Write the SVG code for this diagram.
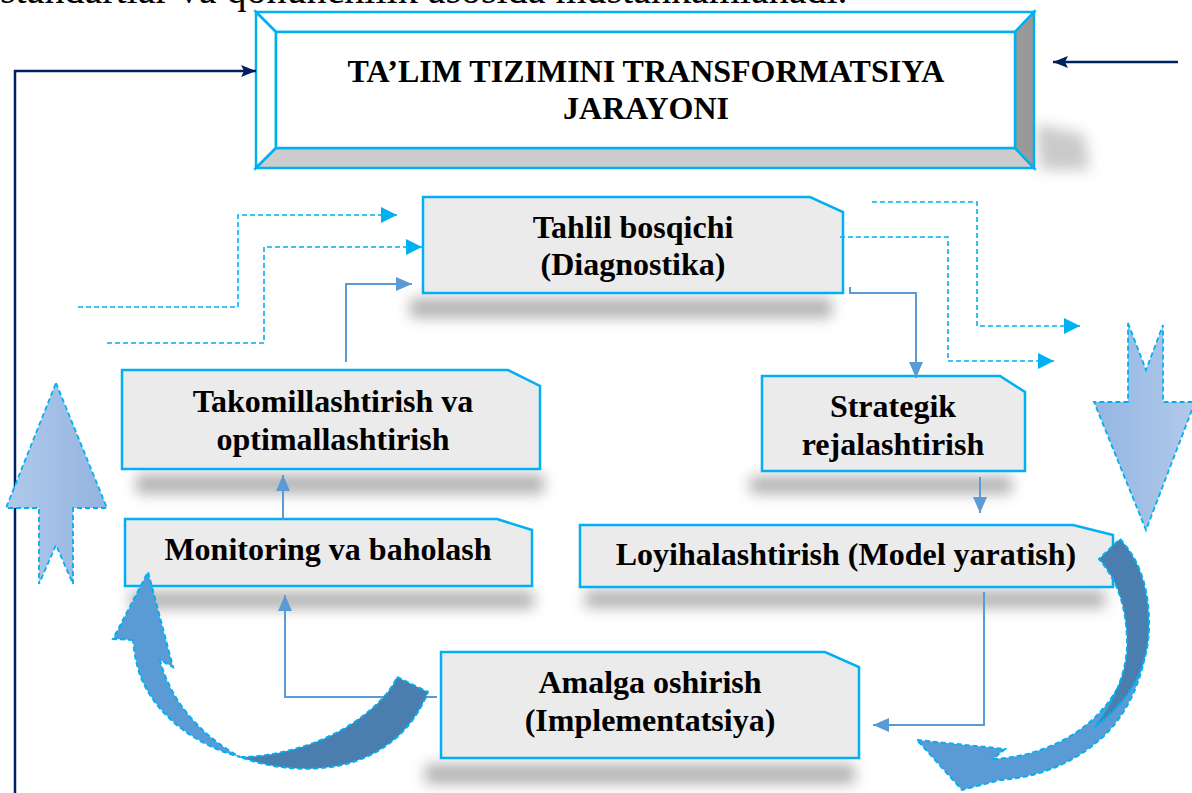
<svg xmlns="http://www.w3.org/2000/svg" width="1192" height="793" viewBox="0 0 1192 793">
  <defs>
    <style>
      .lbl { font-family: "Liberation Serif", "Times New Roman", serif; font-weight: bold; font-size: 32px; fill: #000; text-anchor: middle; }
      .body { font-family: "Liberation Serif", "Times New Roman", serif; font-size: 40px; fill: #000; }
      .box { fill: #ebebeb; stroke: #00b0f0; stroke-width: 2.5; }
      .bevel { stroke: #00b0f0; stroke-width: 2.5; stroke-linejoin: miter; }
      .shadow { fill: #b4b4b4; filter: url(#soft); }
      .link { fill: none; stroke: #5b9bd5; stroke-width: 2; marker-end: url(#blueHead); }
      .dash { fill: none; stroke: #00b0f0; stroke-width: 1.6; stroke-dasharray: 5 3; marker-end: url(#cyanHead); }
      .navy { fill: none; stroke: #002060; stroke-width: 2.5; }
      .bigArrow { stroke: #00b0f0; stroke-width: 1.8; stroke-dasharray: 5 3; }
      .curveLight { fill: #5b9bd5; stroke: #00b0f0; stroke-width: 2; stroke-dasharray: 5 3; }
      .curveDark { fill: #4a7eae; stroke: #00b0f0; stroke-width: 2; stroke-dasharray: 5 3; }
    </style>
    <filter id="soft" x="-30%" y="-150%" width="160%" height="400%">
      <feGaussianBlur stdDeviation="7"/>
    </filter>
    <linearGradient id="upFill" x1="0" y1="0" x2="1" y2="0">
      <stop offset="0" stop-color="#b0c9ea"/>
      <stop offset="1" stop-color="#93b4e0"/>
    </linearGradient>
    <linearGradient id="downFill" x1="0" y1="0" x2="1" y2="0">
      <stop offset="0" stop-color="#93b6e2"/>
      <stop offset="1" stop-color="#b2c9ea"/>
    </linearGradient>
    <marker id="navyHead" markerUnits="userSpaceOnUse" markerWidth="16" markerHeight="12" refX="15" refY="6" orient="auto">
      <path d="M0,0 L15,6 L0,12 L3,6 Z" fill="#002060"/>
    </marker>
    <marker id="cyanHead" markerUnits="userSpaceOnUse" markerWidth="17" markerHeight="16" refX="16" refY="8" orient="auto">
      <path d="M0,0 L16,8 L0,16 Z" fill="#00b0f0"/>
    </marker>
    <marker id="blueHead" markerUnits="userSpaceOnUse" markerWidth="17" markerHeight="14" refX="16" refY="7" orient="auto">
      <path d="M0,0 L16,7 L0,14 Z" fill="#5b9bd5"/>
    </marker>
  </defs>

  <rect width="1192" height="793" fill="#ffffff"/>

  <!-- running text line above the figure, mostly out of frame -->
  <text class="body" x="0" y="3">standartlar va qonunchilik asosida mustahkamlanadi.</text>

  <!-- soft drop shadows -->
  <g id="shadows">
    <polygon class="shadow" points="1036,124 1084,134 1090,170 1040,170" opacity="0.7"/>
    <rect class="shadow" x="410" y="298" width="422" height="20"/>
    <rect class="shadow" x="750" y="476" width="262" height="18"/>
    <rect class="shadow" x="136" y="474" width="408" height="20"/>
    <rect class="shadow" x="130" y="591" width="404" height="18"/>
    <rect class="shadow" x="585" y="590" width="520" height="18"/>
    <rect class="shadow" x="425" y="764" width="430" height="20"/>
  </g>

  <!-- title frame with bevelled edges -->
  <g id="title">
    <polygon points="256,12 1034,12 1015,32 276,32" fill="#ffffff" class="bevel"/>
    <polygon points="256,12 276,32 276,148 256,168" fill="#ffffff" class="bevel"/>
    <polygon points="256,168 276,148 1015,148 1034,168" fill="#cccccc" class="bevel"/>
    <polygon points="1034,12 1034,168 1015,148 1015,32" fill="#999999" class="bevel"/>
    <rect x="276" y="32" width="739" height="116" fill="#ffffff" class="bevel"/>
    <text class="lbl" x="646" y="82">TA’LIM TIZIMINI TRANSFORMATSIYA</text>
    <text class="lbl" x="646" y="119">JARAYONI</text>
  </g>

  <g id="tahlil">
    <path class="box" d="M423,197 H810 L843,212 V293 H423 Z"/>
    <text class="lbl" x="633" y="238">Tahlil bosqichi</text>
    <text class="lbl" x="633" y="275">(Diagnostika)</text>
  </g>

  <g id="strategik">
    <path class="box" d="M762,376 H1000 L1025,392 V471 H762 Z"/>
    <text class="lbl" x="893" y="417">Strategik</text>
    <text class="lbl" x="893" y="455">rejalashtirish</text>
  </g>

  <g id="loyihalashtirish">
    <path class="box" d="M580,525 H1073 L1113,535 V587 H580 Z"/>
    <text class="lbl" x="846" y="565">Loyihalashtirish (Model yaratish)</text>
  </g>

  <g id="amalga">
    <path class="box" d="M441,652 H825 L859,667 V758 H441 Z"/>
    <text class="lbl" x="650" y="693">Amalga oshirish</text>
    <text class="lbl" x="650" y="731">(Implementatsiya)</text>
  </g>

  <g id="monitoring">
    <path class="box" d="M125,519 H497 L532,530 V586 H125 Z"/>
    <text class="lbl" x="328" y="560">Monitoring va baholash</text>
  </g>

  <g id="takomillashtirish">
    <path class="box" d="M122,370 H508 L540,386 V469 H122 Z"/>
    <text class="lbl" x="333" y="412">Takomillashtirish va</text>
    <text class="lbl" x="333" y="450">optimallashtirish</text>
  </g>

  <!-- connectors -->
  <g id="connectors">
    <path class="link" d="M850,287 V293 H916 V378"/>
    <path class="link" d="M980,477 V513"/>
    <path class="link" d="M984,592 V725 H873"/>
    <path class="link" d="M437,697 H285 V595"/>
    <path class="link" d="M283,519 V475"/>
    <path class="link" d="M346,362 V284 H412"/>

    <path class="dash" d="M78,307 H238 V215 H397"/>
    <path class="dash" d="M107,343 H264 V247 H422"/>
    <path class="dash" d="M872,202 H977 V326 H1080"/>
    <path class="dash" d="M840,237 H948 V361 H1054"/>

    <path class="navy" d="M15,793 V71 H256" marker-end="url(#navyHead)"/>
    <path class="navy" d="M1178,62 H1053" marker-end="url(#navyHead)"/>
  </g>

  <!-- large block arrows -->
  <g id="up-arrow">
    <path class="bigArrow" fill="url(#upFill)" d="M56,383 L107,508 H73 V584 L56,545 L39,584 V508 H6 Z"/>
  </g>
  <g id="down-arrow">
    <path class="bigArrow" fill="url(#downFill)" d="M1128,323 L1146,370 L1163,325 V402 H1195 L1146,530 L1094,402 H1128 Z"/>
  </g>

  <!-- curved return arrows -->
  <g id="curve-left">
    <path class="curveLight" d="M133,640 L113,639 L148,572 L173,667 L160,660 C170,700 200,735 240,757 C195,745 155,715 140,675 C136,663 134,652 133,640 Z"/>
    <path class="curveDark" d="M397,677 L428,692 C415,725 390,750 353,762 C318,773 275,770 240,757 C275,757 320,745 353,723 C375,708 390,693 397,677 Z"/>
  </g>
  <g id="curve-right">
    <path class="curveLight" d="M917,740 L1005,749 L993,759 C1040,757 1085,735 1110,700 C1130,670 1142,640 1147,615 C1150,660 1135,705 1105,735 C1075,763 1040,777 1000,780 L962,790 Z"/>
    <path class="curveDark" d="M1120,539 C1140,560 1150,590 1149,630 C1147,670 1130,700 1095,727 C1115,700 1128,670 1127,640 C1126,605 1117,580 1099,559 Z"/>
  </g>
</svg>
